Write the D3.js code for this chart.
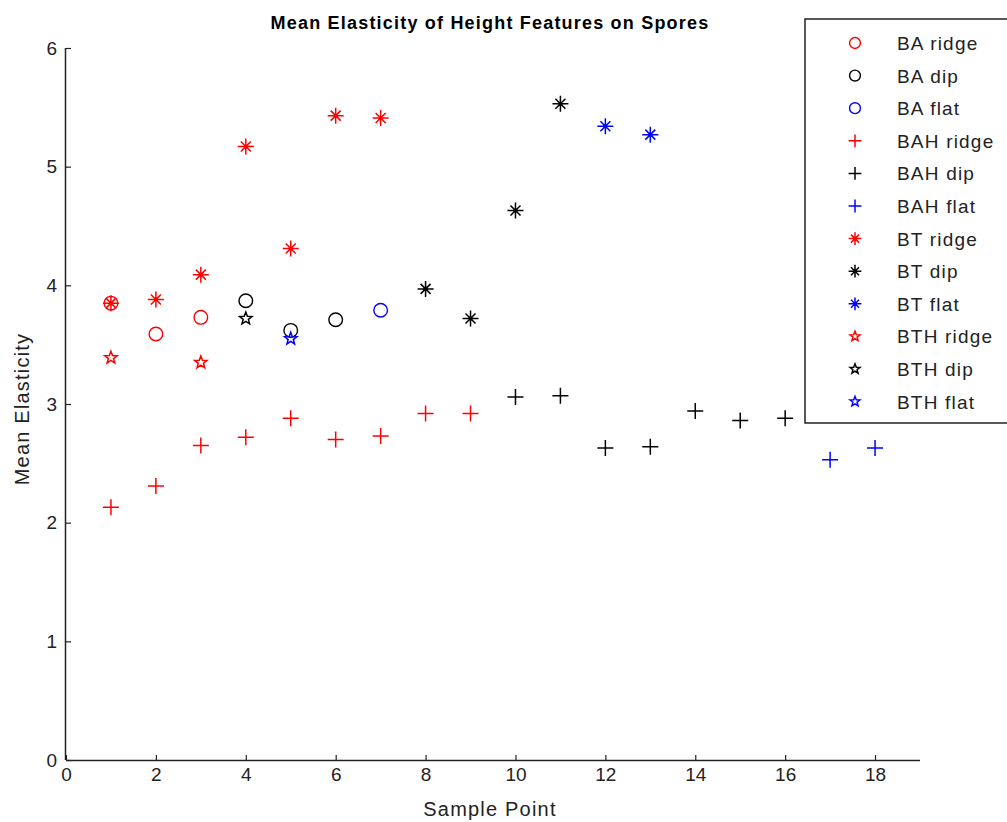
<!DOCTYPE html>
<html>
<head>
<meta charset="utf-8">
<script src="https://cdn.jsdelivr.net/npm/d3@7"></script>
<style>
  body { margin: 0; background: #fff; }
  text { font-family: "Liberation Sans", Arial, sans-serif; }
</style>
</head>
<body>
<div id="chart"></div>
<script>
const baRidgeX = [1, 2, 3], baRidgeY = [3.85, 3.59, 3.73];
const baDipX = [4, 5, 6], baDipY = [3.87, 3.62, 3.71];
const baFlatX = [7], baFlatY = [3.79];
const bahRidgeX = [1, 2, 3, 4, 5, 6, 7, 8, 9];
const bahRidgeY = [2.13, 2.31, 2.65, 2.72, 2.88, 2.70, 2.73, 2.92, 2.92];
const bahDipX = [10, 11, 12, 13, 14, 15, 16];
const bahDipY = [3.06, 3.07, 2.63, 2.64, 2.94, 2.86, 2.88];
const bahFlatX = [17, 18], bahFlatY = [2.53, 2.63];
const btRidgeX = [1, 2, 3, 4, 5, 6, 7];
const btRidgeY = [3.85, 3.88, 4.09, 5.17, 4.31, 5.43, 5.41];
const btDipX = [8, 9, 10, 11], btDipY = [3.97, 3.72, 4.63, 5.53];
const btFlatX = [12, 13], btFlatY = [5.34, 5.27];
const bthRidgeX = [1, 3], bthRidgeY = [3.39, 3.35];
const bthDipX = [4], bthDipY = [3.72];
const bthFlatX = [5], bthFlatY = [3.55];

const xTicks = [0, 2, 4, 6, 8, 10, 12, 14, 16, 18];
const yTicks = [0, 1, 2, 3, 4, 5, 6];

const series = [
  { name: "BA ridge", color: "#ff0000", marker: "o", xs: baRidgeX, ys: baRidgeY },
  { name: "BA dip", color: "#000000", marker: "o", xs: baDipX, ys: baDipY },
  { name: "BA flat", color: "#0000ff", marker: "o", xs: baFlatX, ys: baFlatY },
  { name: "BAH ridge", color: "#ff0000", marker: "+", xs: bahRidgeX, ys: bahRidgeY },
  { name: "BAH dip", color: "#000000", marker: "+", xs: bahDipX, ys: bahDipY },
  { name: "BAH flat", color: "#0000ff", marker: "+", xs: bahFlatX, ys: bahFlatY },
  { name: "BT ridge", color: "#ff0000", marker: "*", xs: btRidgeX, ys: btRidgeY },
  { name: "BT dip", color: "#000000", marker: "*", xs: btDipX, ys: btDipY },
  { name: "BT flat", color: "#0000ff", marker: "*", xs: btFlatX, ys: btFlatY },
  { name: "BTH ridge", color: "#ff0000", marker: "p", xs: bthRidgeX, ys: bthRidgeY },
  { name: "BTH dip", color: "#000000", marker: "p", xs: bthDipX, ys: bthDipY },
  { name: "BTH flat", color: "#0000ff", marker: "p", xs: bthFlatX, ys: bthFlatY },
];

const width = 1007, height = 822;
const mLeft = 66, mRight = 920, mTop = 48, mBottom = 760;

const x = d3.scaleLinear().domain([0, 19]).range([mLeft, mRight]);
const y = d3.scaleLinear().domain([0, 6]).range([mBottom, mTop]);

const svg = d3.select("#chart").append("svg")
  .attr("width", width).attr("height", height);

function starPath(r) {
  const ri = r * 0.42;
  let p = "";
  for (let i = 0; i < 10; i++) {
    const a = -Math.PI / 2 + i * Math.PI / 5;
    const rr = i % 2 === 0 ? r : ri;
    p += (i === 0 ? "M" : "L") + (rr * Math.cos(a)).toFixed(2) + "," + (rr * Math.sin(a)).toFixed(2);
  }
  return p + "Z";
}

// k scales the marker (legend uses smaller ones)
function drawMarker(g, marker, color, k) {
  if (marker === "o") {
    g.append("circle").attr("r", 6.8 * k)
      .attr("fill", "none").attr("stroke", color).attr("stroke-width", 1.4);
  } else if (marker === "+") {
    const a = 8 * k;
    g.append("path").attr("d", `M${-a},0H${a}M0,${-a}V${a}`)
      .attr("stroke", color).attr("stroke-width", 1.5);
  } else if (marker === "*") {
    const a = 8 * k, d = 5 * k;
    g.append("path")
      .attr("d", `M${-a},0H${a}M0,${-a}V${a}M${-d},${-d}L${d},${d}M${-d},${d}L${d},${-d}`)
      .attr("stroke", color).attr("stroke-width", 1.5);
    g.append("circle").attr("r", 2 * k).attr("fill", color);
  } else if (marker === "p") {
    g.append("path").attr("d", starPath(6.5 * k))
      .attr("fill", "none").attr("stroke", color).attr("stroke-width", 1.5);
  }
}

const xAxis = d3.axisBottom(x).tickValues(xTicks).tickSize(-5).tickPadding(8)
  .tickFormat(d3.format("d"));
const yAxis = d3.axisLeft(y).tickValues(yTicks).tickSize(-5).tickPadding(9)
  .tickFormat(d3.format("d"));

const gx = svg.append("g").attr("transform", `translate(0,${mBottom})`).call(xAxis);
const gy = svg.append("g").attr("transform", `translate(${mLeft},0)`).call(yAxis);

[gx, gy].forEach(g => {
  g.select(".domain").attr("stroke", "#222").attr("stroke-width", 1.5);
  g.selectAll(".tick line").attr("stroke", "#222").attr("stroke-width", 1.2);
  g.selectAll(".tick text").attr("fill", "#222").style("font-size", "19px")
    .style("font-family", "'Liberation Sans', Arial, sans-serif");
});
gx.select(".domain").attr("d", `M${mLeft},0.5H${mRight}`);
gy.select(".domain").attr("d", `M-0.5,${mTop}V${mBottom}`);

series.forEach(s => {
  s.xs.forEach((xv, i) => {
    const g = svg.append("g")
      .attr("transform", `translate(${x(xv)},${y(s.ys[i])})`);
    drawMarker(g, s.marker, s.color, 1);
  });
});

svg.append("text").attr("x", (mLeft + mRight) / 2 - 3).attr("y", 29)
  .attr("text-anchor", "middle").style("font-size", "18px").style("font-weight", "bold")
  .style("letter-spacing", "1.2px")
  .text("Mean Elasticity of Height Features on Spores");

svg.append("text").attr("x", (mLeft + mRight) / 2 - 3).attr("y", 816)
  .attr("text-anchor", "middle").style("font-size", "20px").attr("fill", "#222")
  .style("letter-spacing", "1.2px")
  .text("Sample Point");

svg.append("text")
  .attr("transform", `translate(29,${(mTop + mBottom) / 2 + 5}) rotate(-90)`)
  .attr("text-anchor", "middle").style("font-size", "20px").attr("fill", "#222")
  .style("letter-spacing", "1.2px")
  .text("Mean Elasticity");

// legend
const legX = 805, legY = 19, legW = 210, legH = 404, rowH = 32.6;
const leg = svg.append("g");
leg.append("rect").attr("x", legX).attr("y", legY).attr("width", legW).attr("height", legH)
  .attr("fill", "#fff").attr("stroke", "#222").attr("stroke-width", 1.5);

series.forEach((s, i) => {
  const cy = legY + 24 + i * rowH;
  const g = leg.append("g").attr("transform", `translate(855,${cy})`);
  drawMarker(g, s.marker, s.color, 0.8);
  leg.append("text").attr("x", 897).attr("y", cy + 7)
    .style("font-size", "19px").style("letter-spacing", "1.2px")
    .attr("fill", "#222").text(s.name);
});
</script>
</body>
</html>
